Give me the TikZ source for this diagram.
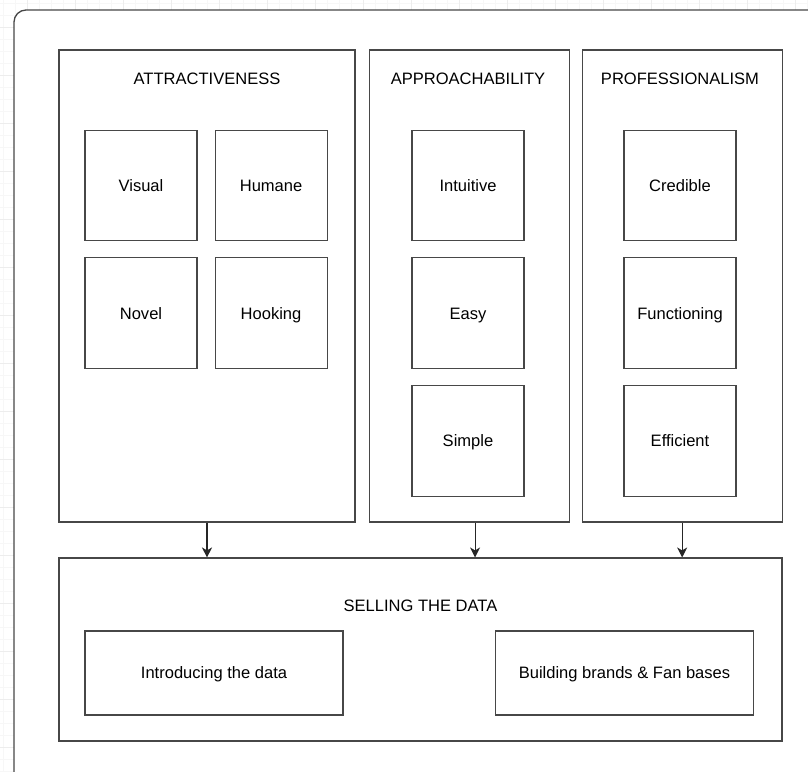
\documentclass[tikz,border=0pt]{standalone}
\usepackage{fontspec}
\setmainfont{Liberation Sans}
\usepackage{tikz}
\usetikzlibrary{positioning,arrows.meta}

\tikzset{
  grp/.style={draw=black!72, line width=0.8pt, minimum width=150pt, minimum height=354pt, inner sep=0pt},
  item/.style={draw=black!72, line width=0.8pt, minimum width=84pt, minimum height=83pt, inner sep=0pt,
    text height=11pt, text depth=2.1pt},
  wide/.style={draw=black!72, line width=0.8pt, minimum width=193.5pt, minimum height=63pt, inner sep=0pt,
    text height=11pt, text depth=2.1pt},
  ttl/.style={inner sep=0pt, text height=11pt, text depth=2.1pt},
  arr/.style={draw=black!85, line width=0.8pt, -{Stealth[length=7.5pt,width=7.5pt,inset=2.2pt]}},
  minorline/.style={draw=black!3, line width=0.4pt},
  majorline/.style={draw=black!7, line width=0.4pt},
}

\begin{document}
\begin{tikzpicture}[x=0.75pt, y=-0.75pt, font=\fontsize{12.4}{14.5}\selectfont, node distance=12pt]

  % canvas and grid
  \useasboundingbox (0,0) rectangle (808,772);
  \clip (0,0) rectangle (808,772);
  \fill[white] (0,0) rectangle (808,772);
  \foreach \g in {3,15,...,807} {
    \draw[minorline] (\g,0) -- (\g,772);
    \draw[minorline] (0,\g) -- (808,\g);
  }
  \foreach \g in {27,75,...,807} {
    \draw[majorline] (\g,0) -- (\g,772);
    \draw[majorline] (0,\g) -- (808,\g);
  }
  \draw[draw=black!72, line width=1pt, fill=white, rounded corners=9pt] (14,10) rectangle (850,790);

  % Define nodes
  \node[grp, minimum width=222pt]   (attr) at (207,286) {};
  \node[grp, right=9.75pt of attr]  (appr) {};
  \node[grp, right=9pt of appr]     (prof) {};

  \node[ttl] (attrt) at (207,79) {ATTRACTIVENESS};
  \node[ttl] (apprt) at (468,79) {APPROACHABILITY};
  \node[ttl] (proft) at (680,79) {PROFESSIONALISM};

  \node[item]                          (visual) at (141,185.5) {Visual};
  \node[item, right=12.75pt of visual] (humane) {Humane};
  \node[item, below=of visual]         (novel)  {Novel};
  \node[item, right=12.75pt of novel]  (hook)   {Hooking};

  \node[item]                  (intu) at (468,185.5) {Intuitive};
  \node[item, below=of intu]   (easy) {Easy};
  \node[item, below=of easy]   (simp) {Simple};

  \node[item]                  (cred) at (680,185.5) {Credible};
  \node[item, below=of cred]   (func) {Functioning};
  \node[item, below=of func]   (effi) {Efficient};

  \node[grp, minimum width=542.25pt, minimum height=137.25pt] (sell) at (420.5,649.5) {};
  \node[ttl] (sellt) at (420.5,606) {SELLING THE DATA};
  \node[wide] (intro) at (214,673)   {Introducing the data};
  \node[wide] (brand) at (624.5,673) {Building brands \& Fan bases};

  % connectors
  \draw[arr] (attr.south) -- (attr.south |- sell.north);
  \draw[arr] ([xshift=4.5pt]appr.south) -- ([xshift=4.5pt]appr.south |- sell.north);
  \draw[arr] (prof.south) -- (prof.south |- sell.north);

\end{tikzpicture}
\end{document}
